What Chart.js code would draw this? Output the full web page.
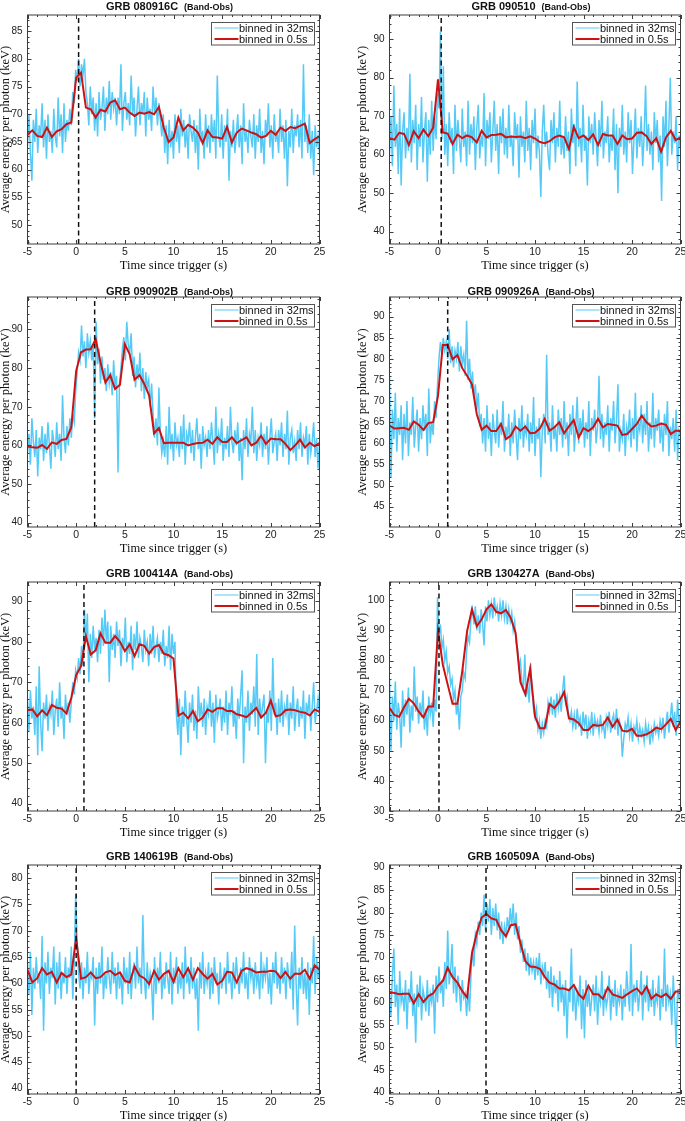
<!DOCTYPE html>
<html><head><meta charset="utf-8">
<script src="https://cdn.jsdelivr.net/npm/chart.js@4.4.1/dist/chart.umd.min.js"></script>
<style>
html,body{margin:0;padding:0;background:#fff;overflow:hidden;width:685px;height:1121px;position:relative}
canvas{position:absolute;display:block}
</style></head><body>
<script>
// ---- data ----
const grbNames = ['GRB 080916C','GRB 090510','GRB 090902B','GRB 090926A','GRB 100414A','GRB 130427A','GRB 140619B','GRB 160509A'];
const subTitle = '(Band-Obs)';
const triggerTimes = [0.25, 0.33, 1.9, 1.0, 0.8, 0.1, 0.0, 4.95];
const yMins = [46.6, 36.8, 38.9, 40.2, 38.2, 30, 39, 39.6];
const yMaxs = [87.9, 96.3, 98.4, 94.65, 94.8, 106.1, 82.5, 90.6];
const yTickSteps = [5, 10, 10, 5, 10, 10, 5, 5];
const xTickValues = [-5, 0, 5, 10, 15, 20, 25];

const e32_080916C = [64,70,63,58,69,65,71,63,68,66,72,64,69,62,70,65,67,63,71,66,64,73,66,70,63,72,65,69,67,71,68,74,72,78,76,80,75,79,77,80,74,72,68,75,70,73,67,72,66,74,69,71,75,67,73,70,76,69,74,71,73,68,73,70,79,67,72,74,69,72,68,77,70,73,66,71,75,68,72,70,74,66,73,69,71,67,75,70,73,68,72,69,66,70,63,68,61,69,64,67,62,70,65,68,63,71,66,69,64,68,62,70,67,65,69,63,68,60,71,65,67,62,70,64,68,63,70,65,69,62,77,66,64,70,62,68,65,71,58,67,64,69,63,66,70,64,68,61,72,65,67,63,69,66,64,70,62,68,65,71,63,67,61,69,66,72,64,68,62,70,65,67,63,71,65,68,62,69,57,67,64,71,63,68,66,70,64,69,62,79,65,68,63,70,62,67,59,68,64,66,63];
const e05_080916C = [66.3,67.1,66.1,65.9,67.6,65.9,66.9,67.3,68.2,68.5,76.6,77.5,71.2,70.9,69.4,70.8,70.5,72.1,72.5,70.9,71.2,70.3,69.7,70.3,70.1,70.4,70.0,71.3,67.6,65.0,65.8,69.4,67.1,68.1,67.6,66.7,64.8,67.1,65.9,65.8,65.6,67.7,64.9,66.7,67.4,67.1,66.7,66.4,65.8,66.1,67.0,66.3,67.6,67.0,67.7,67.5,67.9,68.3,64.8,65.5,66.0];

const e32_090510 = [60,70,57,78,62,68,55,72,52,66,71,59,67,61,81,58,69,63,73,56,68,62,75,58,66,71,53,69,60,74,61,70,64,76,72,92,64,83,60,68,57,71,63,67,55,73,61,69,64,58,72,62,66,57,74,60,68,63,70,56,67,73,59,65,62,76,57,69,64,71,58,66,74,61,68,55,70,63,72,60,67,59,73,62,65,57,71,64,68,54,70,62,66,58,74,61,67,56,69,63,72,59,65,61,49,66,73,62,66,60,56,69,63,71,58,67,62,74,60,65,59,70,61,66,55,72,63,68,57,79,62,67,58,73,61,65,52,70,63,68,60,71,64,57,69,62,74,59,66,63,70,58,65,61,72,56,68,50,67,62,73,60,66,58,71,63,69,55,64,72,59,67,62,70,57,65,78,61,68,60,66,56,71,63,69,58,65,48,70,62,74,57,67,80,60,66,63,70,56,65,62];
const e05_090510 = [64.3,63.9,65.7,65.4,62.5,66.1,64.3,66.5,64.8,67.0,79.6,65.8,65.5,62.8,65.2,64.3,65.0,64.5,63.2,66.2,64.5,65.1,65.2,65.4,64.5,64.7,64.6,64.7,64.3,64.8,64.2,63.3,63.0,63.5,64.5,65.0,64.5,61.5,67.2,64.3,65.0,63.8,65.3,62.5,65.4,65.0,65.0,62.8,65.0,64.0,64.2,65.7,65.8,64.8,62.8,64.3,60.8,64.5,66.2,63.8,64.5];

const e32_090902B = [58,63,55,67,61,57,64,52,62,59,65,56,63,58,66,60,54,64,61,57,66,59,63,56,73,62,58,65,60,67,62,68,66,74,79,84,82,91,83,87,80,89,84,87,82,86,67,92,81,85,76,83,77,80,74,81,76,79,73,82,75,78,53,76,80,85,88,82,92,86,84,89,78,83,75,81,77,84,74,80,72,79,75,77,70,76,68,62,67,60,75,63,58,61,57,65,55,70,59,63,56,66,60,62,57,65,59,68,55,63,61,66,58,64,56,62,67,59,63,54,65,60,62,57,64,59,66,61,55,70,58,63,60,67,56,62,59,65,57,70,61,58,64,60,66,56,62,51,64,59,67,57,63,61,70,58,64,56,62,60,66,57,63,59,65,55,62,67,58,61,63,56,64,60,66,57,63,59,69,55,62,64,58,61,56,64,59,66,57,62,60,65,55,63,58,61,66,57,62,54,61];
const e05_090902B = [59.7,59.5,59.4,60.1,59.1,60.8,60.4,61.4,61.7,64.7,79.3,84.1,84.8,84.9,87.5,81.5,76.3,78.2,74.6,75.7,86.2,83.6,77.0,78.2,75.9,72.9,63.1,64.5,60.6,60.7,60.7,60.7,60.7,60.0,60.4,60.6,60.7,61.5,60.4,62.1,60.9,60.9,62.1,60.6,61.4,62.1,60.0,60.7,62.5,60.4,61.8,61.6,61.6,60.4,58.8,60.0,61.5,59.5,60.7,59.8,60.6];

const e32_090926A = [76,52,68,61,72,58,66,62,69,56,67,60,70,57,65,62,71,59,64,68,58,66,61,69,63,67,57,73,60,65,62,70,66,74,80,84,81,85,82,84,80,87,79,83,78,82,80,84,77,83,79,81,76,89,75,80,73,77,71,74,68,72,64,67,60,66,58,69,61,65,57,67,63,60,68,59,65,62,70,58,64,61,67,57,65,60,68,62,56,66,61,69,59,64,62,67,58,65,60,71,57,64,61,66,52,63,67,60,81,62,65,58,69,61,64,58,68,62,66,59,70,61,65,57,67,62,69,58,64,71,60,66,62,68,59,65,61,70,57,66,63,68,60,64,76,61,67,59,65,62,69,58,66,63,70,60,65,74,58,63,61,67,57,64,62,68,59,66,61,72,58,65,63,69,60,67,62,70,58,65,61,72,59,66,63,68,60,65,58,67,62,70,57,64,61,66,58,68,56,63,62];
const e05_090926A = [64.2,63.5,63.6,63.7,63.2,65.2,64.4,63.2,64.8,65.0,71.3,83.3,83.3,79.9,80.9,77.8,76.0,74.0,66.9,63.2,64.2,62.9,62.9,64.6,61.0,61.8,64.0,63.0,64.0,62.4,62.5,63.5,65.8,63.0,63.8,65.0,62.4,64.0,65.5,61.4,63.6,62.9,63.8,65.8,63.8,64.6,64.4,64.2,62.0,62.2,63.4,64.6,66.6,65.0,64.0,64.2,64.7,64.4,62.2,63.0,63.0];

const e32_100414A = [66,58,68,61,64,57,69,52,74,60,53,65,61,67,58,64,62,68,57,63,66,59,70,61,64,56,67,62,65,60,65,70,67,73,71,76,72,79,74,88,80,87,70,82,76,84,78,81,75,83,77,86,79,88,80,85,70,84,78,82,76,85,79,83,74,81,78,86,75,80,77,84,73,82,78,85,76,81,79,75,83,78,80,74,82,77,84,76,79,81,75,80,77,83,74,79,76,84,73,82,77,80,62,57,66,52,64,59,68,61,55,65,60,67,58,63,56,69,61,65,59,66,57,64,62,68,59,65,55,67,61,63,66,58,64,60,68,57,65,62,69,59,63,56,66,61,67,73,50,64,60,68,58,65,62,69,59,77,57,66,61,64,67,50,63,60,68,58,76,62,65,57,66,60,68,59,64,62,67,57,65,61,69,58,63,66,59,64,61,68,56,65,62,67,58,64,70,60,63,66,62];
const e05_100414A = [63.1,63.3,61.6,63.1,61.9,64.4,63.7,63.5,62.3,66.2,71.8,74.0,81.4,76.9,77.9,82.1,79.8,79.8,81.4,80.0,77.7,79.4,76.5,79.4,79.0,77.1,78.7,79.2,77.1,76.7,75.9,61.8,62.5,61.1,62.9,60.4,61.3,63.3,62.7,63.6,63.6,62.9,62.9,62.1,61.8,61.4,62.5,63.7,61.3,62.5,65.5,61.6,61.9,63.1,63.3,63.1,62.7,62.5,61.8,63.3,62.7];

const e32_130427A = [74,50,68,60,73,57,66,62,51,70,58,67,62,71,56,65,60,78,63,68,59,66,61,70,57,64,55,68,62,66,58,67,63,101,88,92,84,87,80,83,76,78,72,74,67,70,62,66,57,68,70,76,74,83,88,86,94,97,92,98,90,95,89,97,92,85,98,93,100,95,99,94,101,96,98,93,99,95,100,94,98,92,97,93,96,90,93,86,84,78,80,73,70,82,68,72,66,79,70,64,61,64,57,60,54,59,56,60,58,66,63,68,62,67,61,69,64,68,63,70,75,66,68,62,60,63,58,62,57,64,59,61,55,63,58,62,54,60,57,63,55,61,58,60,56,62,57,59,54,61,58,63,56,60,62,57,64,55,60,58,48,54,59,57,61,55,59,53,58,56,60,54,58,55,57,53,59,55,58,52,57,54,59,56,58,55,60,57,61,54,59,63,56,61,66,58,63,55,67,59,62];
const e05_130427A = [64.2,61.9,61.3,64.5,67.3,65.8,63.1,61.1,64.7,64.7,89.8,78.6,72.0,65.6,65.6,76.4,89.8,97.0,91.4,93.7,97.0,98.7,96.2,95.7,96.8,94.2,89.2,72.8,68.8,77.3,61.4,57.5,57.5,65.5,64.2,66.4,69.5,60.8,60.4,59.2,56.9,56.9,58.6,58.3,58.6,61.1,58.0,60.4,56.7,56.4,57.3,55.0,55.0,55.5,56.4,57.7,57.2,58.8,60.6,56.9,59.7];

const e32_140619B = [64,58,66,54,63,59,65,60,62,57,69,51,64,60,66,58,63,61,67,56,64,59,66,57,62,60,65,58,63,61,67,57,64,77,68,62,59,64,57,63,60,66,58,62,61,65,52,63,58,64,60,67,57,62,59,65,61,58,66,60,63,57,64,59,62,56,65,60,63,58,66,57,62,64,59,67,60,63,58,73,61,57,64,59,62,60,53,65,58,63,60,66,57,62,59,64,61,58,66,56,63,60,65,58,62,59,64,57,67,60,62,58,65,59,63,57,61,51,64,59,66,58,62,60,64,57,63,58,65,60,62,56,64,59,61,63,58,66,60,62,57,64,59,65,61,58,63,60,66,59,62,57,65,61,63,58,64,60,62,57,66,59,63,61,65,58,62,56,64,60,66,59,62,58,65,60,63,57,64,61,59,66,55,71,60,52,63,59,65,58,62,57,64,54,63,60,69,58,65,61,64];
const e05_140619B = [62.6,60.2,61.0,62.9,61.7,62.2,60.2,62.0,61.2,61.7,68.6,60.9,61.2,62.1,61.0,61.2,62.1,62.4,61.6,62.1,60.5,60.2,63.2,61.5,61.0,59.9,62.4,60.7,61.8,62.4,60.3,62.9,61.2,62.9,60.7,62.9,61.8,60.9,61.8,59.8,60.5,62.2,62.1,60.2,62.4,62.9,62.6,62.1,62.2,62.2,62.4,62.3,61.0,62.2,60.9,61.9,61.8,62.6,60.9,63.4,62.6];

const e32_160509A = [63,57,66,72,59,64,55,67,60,62,58,65,54,63,60,67,57,62,51,64,59,66,56,63,61,58,65,57,62,60,64,53,66,60,68,62,65,59,69,63,76,64,67,73,62,68,60,66,63,58,65,61,62,57,63,58,66,72,68,75,73,78,75,80,77,84,76,82,78,83,75,81,77,82,76,80,74,78,73,77,75,79,76,81,77,82,75,80,74,77,71,74,69,72,67,71,66,70,67,69,65,70,66,71,64,68,66,69,63,67,61,68,59,66,62,65,58,67,60,64,57,65,52,63,60,72,58,64,56,62,60,66,54,63,52,65,59,63,57,61,64,58,66,55,62,60,67,57,63,59,61,66,56,63,59,65,57,62,60,64,56,63,59,67,62,58,73,57,64,60,65,58,62,67,56,64,60,66,58,63,59,65,57,62,60,66,56,63,59,72,58,64,60,62,55,66,59,50,63,61,65];
const e05_160509A = [62.3,62.1,61.8,61.9,61.9,59.8,61.8,60.1,61.4,62.0,63.7,64.8,67.7,65.6,64.4,62.5,61.1,70.9,75.5,78.9,79.7,78.7,78.4,76.1,74.7,77.2,77.4,73.2,69.2,68.0,67.9,67.5,65.7,64.4,64.0,63.1,63.1,62.7,63.9,61.8,60.8,63.7,61.8,61.8,60.8,63.3,61.8,61.4,61.0,61.8,62.5,63.1,61.8,63.5,60.8,61.8,61.2,61.9,60.8,62.4,62.4];

const series32 = [e32_080916C, e32_090510, e32_090902B, e32_090926A, e32_100414A, e32_130427A, e32_140619B, e32_160509A];
const series05 = [e05_080916C, e05_090510, e05_090902B, e05_090926A, e05_100414A, e05_130427A, e05_140619B, e05_160509A];
const tStart = -5, tEnd = 25, coarseStep = 0.5;

// ---- layout / style ----
const BLUE = 'rgb(86,202,246)', RED = 'rgb(204,18,18)';
const plotTops = [14.5, 296.5, 581.5, 864.5];
const plotBottoms = [243.5, 526.5, 810.5, 1093.5];
const titleYs = [5, 290, 572, 855];
const plotLefts = [27.5, 389.5], plotRights = [319.5, 680.5];
const canvasLefts = [0, 342], canvasWidths = [342, 343], padLefts = [0, 15];
const SANS = '"Liberation Sans", Arial, Helvetica, sans-serif';
const SERIF = '"Liberation Serif", "Times New Roman", serif';

function toPoints(vals, start, step) { return vals.map((v, i) => ({x: start + i * step, y: v})); }

const decor = {
  id: 'decor',
  afterDraw(chart) {
    const o = chart.options.plugins.decor;
    const {ctx, chartArea: a} = chart;
    const xs = chart.scales.x, ys = chart.scales.y;
    ctx.save();
    ctx.strokeStyle = '#3c3c3c'; ctx.lineWidth = 1;
    ctx.strokeRect(a.left, a.top, a.right - a.left, a.bottom - a.top);
    ctx.beginPath();
    for (let v = tStart; v <= tEnd + 1e-9; v += 1) {
      const p = Math.round(xs.getPixelForValue(v)) + 0.5;
      const len = (Math.abs(v % 5) < 1e-9) ? 4 : 2;
      ctx.moveTo(p, a.bottom); ctx.lineTo(p, a.bottom - len);
      ctx.moveTo(p, a.top); ctx.lineTo(p, a.top + len);
    }
    const minor = o.step / 5;
    for (let v = Math.ceil(ys.min / minor) * minor; v <= ys.max + 1e-9; v += minor) {
      const p = Math.round(ys.getPixelForValue(v)) + 0.5;
      const r = v / o.step;
      const len = (Math.abs(r - Math.round(r)) < 1e-6) ? 4 : 2;
      ctx.moveTo(a.left, p); ctx.lineTo(a.left + len, p);
      ctx.moveTo(a.right, p); ctx.lineTo(a.right - len, p);
    }
    ctx.stroke();
    // legend
    const ds = chart.data.datasets;
    const items = [ds[2], ds[1]];
    const bw = 103, bh = 22.5;
    const bx = Math.round(a.right - 6 - bw) + 0.5, by = Math.round(a.top + 7) + 0.5;
    ctx.fillStyle = '#fff'; ctx.fillRect(bx, by, bw, bh);
    ctx.strokeStyle = '#555'; ctx.lineWidth = 1; ctx.strokeRect(bx, by, bw, bh);
    ctx.font = '11px ' + SANS; ctx.textBaseline = 'middle'; ctx.textAlign = 'left';
    items.forEach((d, i) => {
      const yy = by + 5.5 + i * 11;
      ctx.strokeStyle = d.borderColor; ctx.lineWidth = i === 0 ? 1 : d.borderWidth;
      ctx.beginPath(); ctx.moveTo(bx + 3, yy); ctx.lineTo(bx + 27, yy); ctx.stroke();
      ctx.fillStyle = '#111'; ctx.fillText(d.label, bx + 27.5, yy + 0.5);
    });
    // title
    ctx.fillStyle = '#111'; ctx.textBaseline = 'alphabetic';
    ctx.font = 'bold 11px ' + SANS; const w1 = ctx.measureText(o.title).width;
    ctx.font = 'bold 9px ' + SANS; const w2 = ctx.measureText(o.sub).width;
    const gap = 6, cx = (a.left + a.right) / 2 - 4;
    const x0 = cx - (w1 + gap + w2) / 2;
    ctx.font = 'bold 11px ' + SANS; ctx.fillText(o.title, x0, o.titleY + 4);
    ctx.font = 'bold 9px ' + SANS; ctx.fillText(o.sub, x0 + w1 + gap, o.titleY + 4);
    ctx.restore();
  }
};

for (let k = 0; k < 8; k++) {
  const col = k % 2, row = Math.floor(k / 2);
  const cLeft = canvasLefts[col], cW = canvasWidths[col];
  const cTop = plotTops[row] - 16;
  const cH = plotBottoms[row] + 30 - cTop;
  const cv = document.createElement('canvas');
  cv.width = cW; cv.height = cH;
  cv.style.left = cLeft + 'px'; cv.style.top = cTop + 'px';
  cv.style.width = cW + 'px'; cv.style.height = cH + 'px';
  document.body.appendChild(cv);
  const padL = padLefts[col];
  const yAxisW = plotLefts[col] - cLeft - padL;
  const padR = cW - (plotRights[col] - cLeft);
  const fine = series32[k];
  const fineStep = (tEnd - tStart) / (fine.length - 1);
  new Chart(cv, {
    type: 'line',
    data: {datasets: [
      {label: 'trigger', data: [{x: triggerTimes[k], y: yMins[k]}, {x: triggerTimes[k], y: yMaxs[k]}],
       borderColor: '#111', borderWidth: 1.5, borderDash: [5, 3.5], pointRadius: 0, order: 0},
      {label: 'binned in 0.5s', data: toPoints(series05[k], tStart, coarseStep),
       borderColor: RED, borderWidth: 2, pointRadius: 0, tension: 0, order: 1},
      {label: 'binned in 32ms', data: toPoints(fine, tStart, fineStep),
       borderColor: BLUE, borderWidth: 1.5, pointRadius: 0, tension: 0, order: 2}
    ]},
    options: {
      responsive: false, animation: false, devicePixelRatio: 1,
      layout: {padding: {left: padL, top: 16, right: padR, bottom: 0}},
      plugins: {
        legend: {display: false}, tooltip: {enabled: false},
        decor: {title: grbNames[k], sub: subTitle, titleY: titleYs[row] - cTop, step: yTickSteps[k]}
      },
      scales: {
        x: {
          type: 'linear', min: tStart, max: tEnd,
          grid: {display: false, drawTicks: false}, border: {display: false},
          afterBuildTicks: s => { s.ticks = xTickValues.map(v => ({value: v})); },
          ticks: {padding: 2, color: '#222', font: {family: SANS, size: 10.5}, maxRotation: 0, autoSkip: false},
          title: {display: true, text: 'Time since trigger (s)', color: '#111', font: {family: SERIF, size: 12.5}, padding: {top: 0, bottom: 1}},
          afterFit: s => { s.height = 30; s.paddingLeft = 0; s.paddingRight = 0; }
        },
        y: {
          type: 'linear', min: yMins[k], max: yMaxs[k],
          grid: {display: false, drawTicks: false}, border: {display: false},
          ticks: {stepSize: yTickSteps[k], includeBounds: false, padding: 5, color: '#222', font: {family: SANS, size: 10}},
          title: {display: true, text: 'Average energy per photon (keV)', color: '#111', font: {family: SERIF, size: 12.5}, padding: {top: -2, bottom: 0}},
          afterFit: s => { s.width = yAxisW; s.paddingTop = 0; s.paddingBottom = 0; }
        }
      }
    },
    plugins: [decor]
  });
}
</script>
</body></html>
